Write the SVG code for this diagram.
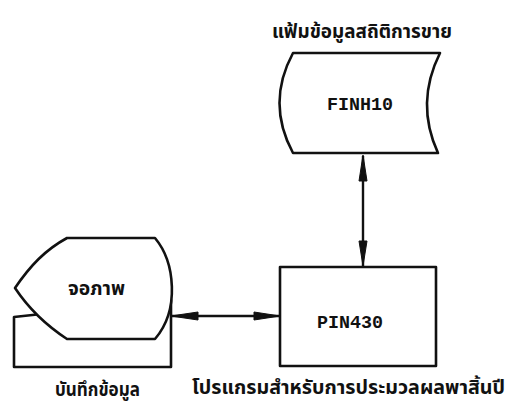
<svg xmlns="http://www.w3.org/2000/svg" width="509" height="408" viewBox="0 0 509 408">
<style>
.shape{fill:#fff;stroke:#111;stroke-width:2.6;stroke-linejoin:round}
.line{stroke:#111;stroke-width:2.4;fill:none}
.head{fill:#111;stroke:#111;stroke-width:1}
.th{font-family:"Noto Sans Thai","Noto Sans","DejaVu Sans",sans-serif;font-weight:bold;font-size:19px;fill:#111}
.code{font-family:"Liberation Mono","Courier New",monospace;font-weight:bold;font-size:18px;fill:#111}
</style>
<rect width="509" height="408" fill="#fff"/>
<g id="connectors">
<line class="line" x1="363" y1="156" x2="363" y2="266"/>
<polygon class="head" points="363,155 367,181 359,181"/>
<polygon class="head" points="363,266 367,241 359,241"/>
<line class="line" x1="171" y1="316" x2="280" y2="316"/>
<polygon class="head" points="171,316 198,312 198,320"/>
<polygon class="head" points="280,316 254,312 254,320"/>
</g>
<g id="file-finh10">
<path class="shape" d="M293,53 L440,53 Q415,103 438,153 L293,153 Q266,103 293,53 Z"/>
<text class="code" x="360" y="110" text-anchor="middle" textLength="66" lengthAdjust="spacingAndGlyphs">FINH10</text>
<text class="th" x="272" y="38" textLength="180" lengthAdjust="spacingAndGlyphs">แฟ้มข้อมูลสถิติการขาย</text>
</g>
<g id="process-pin430">
<rect class="shape" x="280" y="267" width="156" height="99"/>
<text class="code" x="350" y="328" text-anchor="middle" textLength="66" lengthAdjust="spacingAndGlyphs">PIN430</text>
<text class="th" x="192" y="394" textLength="313" lengthAdjust="spacingAndGlyphs">โปรแกรมสำหรับการประมวลผลพาสิ้นปี</text>
</g>
<g id="keyboard">
<path class="shape" d="M14,317 L171,300 L171,367 L14,367 Z"/>
<text class="th" x="55" y="396" textLength="85" lengthAdjust="spacingAndGlyphs">บันทึกข้อมูล</text>
</g>
<g id="display">
<path class="shape" d="M67,238 L155,238 C175,262 180,310 155,339 L67,339 Q35,318 15,288 C30,266 45,250 67,238 Z"/>
<text class="th" x="68" y="295" textLength="57" lengthAdjust="spacingAndGlyphs">จอภาพ</text>
</g>
</svg>
